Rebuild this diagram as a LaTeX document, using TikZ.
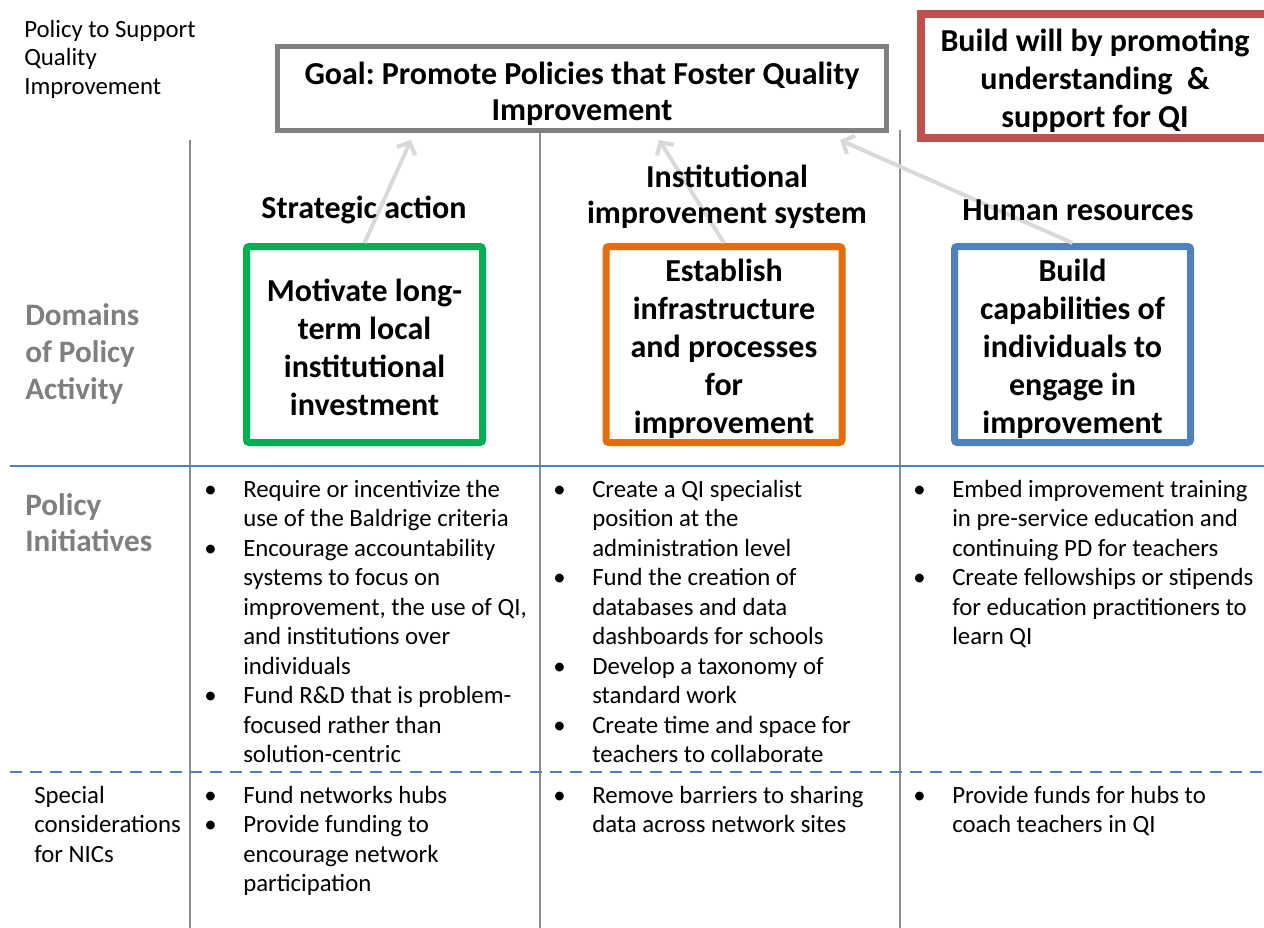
\documentclass[tikz,border=0pt]{standalone}
\usepackage{fontspec}
\setmainfont{Carlito}
\usetikzlibrary{arrows.meta}
\frenchspacing
\definecolor{qgreen}{HTML}{00B050}
\definecolor{qorange}{HTML}{E46C0A}
\definecolor{qblue}{HTML}{4F81BD}
\definecolor{qred}{HTML}{C0504D}
\definecolor{qgray}{HTML}{7F7F7F}
\definecolor{qline}{HTML}{8C8C8C}
\definecolor{qarrow}{HTML}{D9D9D9}
\newcommand{\qreg}{\fontsize{18.6}{22.125}\selectfont}
\newcommand{\qregtop}{\fontsize{18.6}{21.375}\selectfont}
\newcommand{\qboxfont}{\fontsize{24}{28.5}\selectfont\bfseries}
\newcommand{\qheadfont}{\fontsize{24}{27}\selectfont\bfseries}
\newcommand{\qlabfont}{\fontsize{23.4}{27.75}\selectfont\bfseries}
\newcommand{\qlabfontb}{\fontsize{23.4}{27}\selectfont\bfseries}
\begin{document}
\begin{tikzpicture}[x=0.75pt,y=-0.75pt,
  vline/.style={draw=qline,line width=1.5pt},
  hline/.style={draw=qblue,line width=1.5pt},
  domainbox/.style={draw,line width=5.25pt,rounded corners=2pt,inner sep=0pt,
     minimum width=177pt,minimum height=147pt},
  boxtext/.style={align=center,font=\qboxfont,inner sep=0pt},
  header/.style={align=center,font=\qheadfont,inner sep=0pt},
  listtext/.style={anchor=base west,inner sep=0pt,font=\qreg},
  sidelabel/.style={anchor=base west,inner sep=0pt,font=\qlabfont,text=qgray},
  goalarrow/.style={draw=qarrow,line width=3pt,-{Straight Barb[length=7pt,width=15pt]}}
]
\useasboundingbox (0,0) rectangle (1264,928);
\clip (0,0) rectangle (1264,928);

% grid lines
\draw[vline] (190,140) -- (190,928);
\draw[vline] (540,131) -- (540,928);
\draw[vline] (900,130) -- (900,928);
\draw[hline] (10,466) -- (1264,466);
\draw[hline,dash pattern=on 9pt off 6pt] (10,772) -- (1264,772);

% goal and will boxes
\node[draw=qgray,line width=3.75pt,inner sep=0pt,
      minimum width=456.75pt,minimum height=63pt] (goal) at (582,88.5) {};
\node[boxtext,font=\qheadfont] (goaltext) at ([yshift=-3.75pt]goal.center)
  {Goal: Promote Policies that Foster Quality\\Improvement};
\node[draw=qred,line width=6pt,inner sep=0pt,
      minimum width=261pt,minimum height=93pt] (will) at (1095,76) {};
\node[boxtext] (willtext) at ([yshift=-3.75pt]will.center)
  {Build will by promoting\\understanding \ \&\\support for QI};

% domain boxes
\node[domainbox,draw=qgreen] (g) at (364.5,344.5) {};
\node[boxtext] (gt) at ([yshift=-2pt]g.center)
  {Motivate long-\\term local\\institutional\\investment};
\node[domainbox,draw=qorange] (o) at (724,344.5) {};
\node[boxtext] (ot) at ([yshift=-3.5pt]o.center)
  {Establish\\infrastructure\\and processes\\for\\improvement};
\node[domainbox,draw=qblue] (b) at (1072.5,344.5) {};
\node[boxtext] (bt) at ([yshift=-3.5pt]b.center)
  {Build\\capabilities of\\individuals to\\engage in\\improvement};

% arrows
\coordinate (tipA) at (411,140);
\coordinate (tipB) at (659,140);
\coordinate (tipC) at (840,140);
\draw[goalarrow] (g.north) -- (tipA);
\draw[goalarrow] (o.north) -- (tipB);
\draw[goalarrow] (b.north) -- (tipC);

% headers
\node[header] (h1) at (364,210) {Strategic action};
\node[header] (h2) at (727,197) {Institutional\\improvement system};
\node[header] (h3) at (1078,210) {Human resources};

% left labels
\node[listtext,font=\qregtop] (title) at (24,37)
  {\begin{tabular}[t]{@{}l@{}}Policy to Support\\Quality\\Improvement\end{tabular}};
\node[sidelabel] (dom) at (25,325)
  {\begin{tabular}[t]{@{}l@{}}Domains\\of Policy\\Activity\end{tabular}};
\node[sidelabel,font=\qlabfontb] (pin) at (25,515)
  {\begin{tabular}[t]{@{}l@{}}Policy\\Initiatives\end{tabular}};
\node[listtext] (spec) at (34,803)
  {\begin{tabular}[t]{@{}l@{}}Special\\considerations\\for NICs\end{tabular}};

% policy initiatives
\node[listtext] (p1) at (204,497)
  {\begin{tabular}[t]{@{}p{29.25pt}@{}l@{}}
   \textbullet & Require or incentivize the\\
    & use of the Baldrige criteria\\
   \textbullet & Encourage accountability\\
    & systems to focus on\\
    & improvement, the use of QI,\\
    & and institutions over\\
    & individuals\\
   \textbullet & Fund R\&D that is problem-\\
    & focused rather than\\
    & solution-centric
  \end{tabular}};
\node[listtext] (p2) at (553,497)
  {\begin{tabular}[t]{@{}p{29.25pt}@{}l@{}}
   \textbullet & Create a QI specialist\\
    & position at the\\
    & administration level\\
   \textbullet & Fund the creation of\\
    & databases and data\\
    & dashboards for schools\\
   \textbullet & Develop a taxonomy of\\
    & standard work\\
   \textbullet & Create time and space for\\
    & teachers to collaborate
  \end{tabular}};
\node[listtext] (p3) at (913,497)
  {\begin{tabular}[t]{@{}p{29.25pt}@{}l@{}}
   \textbullet & Embed improvement training\\
    & in pre-service education and\\
    & continuing PD for teachers\\
   \textbullet & Create fellowships or stipends\\
    & for education practitioners to\\
    & learn QI
  \end{tabular}};

% special considerations
\node[listtext] (s1) at (204,803)
  {\begin{tabular}[t]{@{}p{29.25pt}@{}l@{}}
   \textbullet & Fund networks hubs\\
   \textbullet & Provide funding to\\
    & encourage network\\
    & participation
  \end{tabular}};
\node[listtext] (s2) at (553,803)
  {\begin{tabular}[t]{@{}p{29.25pt}@{}l@{}}
   \textbullet & Remove barriers to sharing\\
    & data across network sites
  \end{tabular}};
\node[listtext] (s3) at (913,803)
  {\begin{tabular}[t]{@{}p{29.25pt}@{}l@{}}
   \textbullet & Provide funds for hubs to\\
    & coach teachers in QI
  \end{tabular}};
\end{tikzpicture}
\end{document}
